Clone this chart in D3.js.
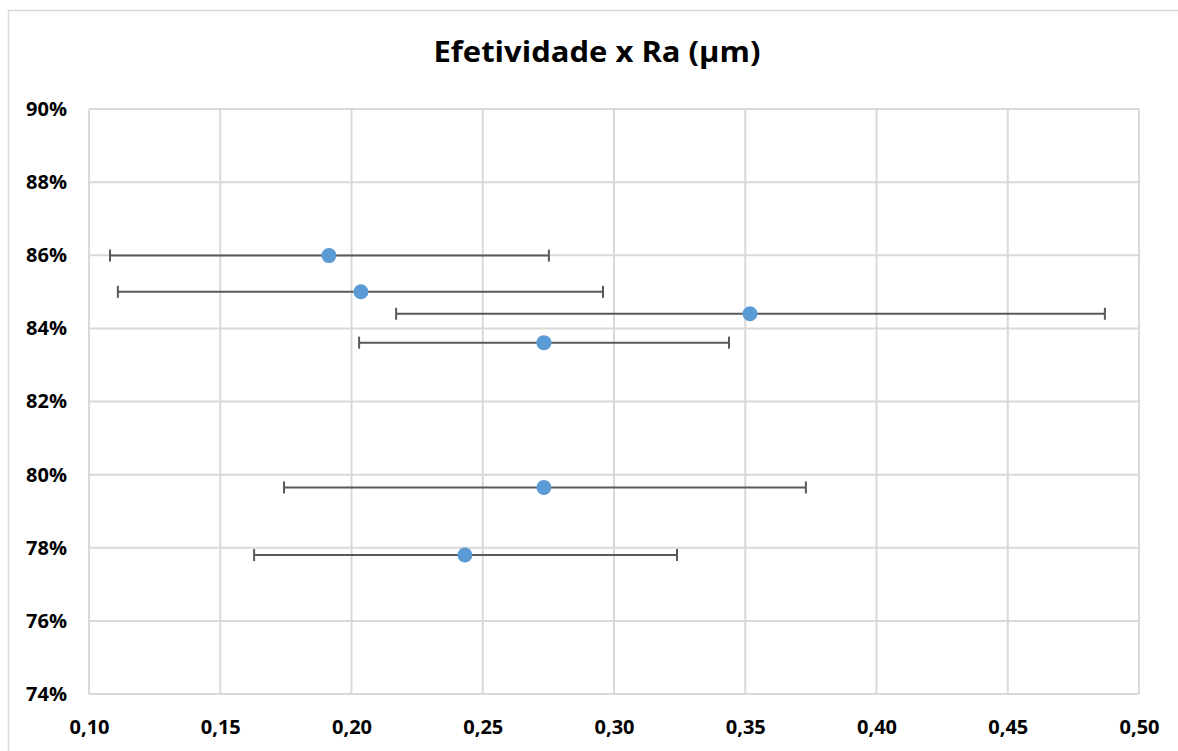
<!DOCTYPE html>
<html>
<head>
<meta charset="utf-8">
<script src="https://cdn.jsdelivr.net/npm/d3@7"></script>
<style>
  html, body { margin: 0; padding: 0; background: #fff; }
  svg { display: block; }
  text { font-family: "Open Sans", "Liberation Sans", sans-serif; font-weight: bold; fill: #000; }
</style>
</head>
<body>
<svg id="chart" width="1178" height="751"></svg>
<script>
// Ra (µm) mean and error-bar range for each sample, with its efetividade (%)
const raMean = [0.1914, 0.2036, 0.3518, 0.2733, 0.2733, 0.2432];
const raLow  = [0.1080, 0.1110, 0.2170, 0.2029, 0.1743, 0.1629];
const raHigh = [0.2752, 0.2958, 0.4870, 0.3438, 0.3731, 0.3240];
const efet   = [85.99, 85.00, 84.40, 83.61, 79.65, 77.80];

const xTicks = [0.10, 0.15, 0.20, 0.25, 0.30, 0.35, 0.40, 0.45, 0.50];
const yTicks = [74, 76, 78, 80, 82, 84, 86, 88, 90];

const svg = d3.select("#chart");
const W = 1178, H = 751;
const plot = { left: 89, top: 109, right: 1139, bottom: 694 };

// chart outer frame
svg.append("rect")
  .attr("x", 8.5).attr("y", 10.5)
  .attr("width", W + 20).attr("height", H + 20)
  .attr("fill", "#fff").attr("stroke", "#d9d9d9").attr("stroke-width", 1.5);

const x = d3.scaleLinear().domain([0.10, 0.50]).range([plot.left, plot.right]);
const y = d3.scaleLinear().domain([74, 90]).range([plot.bottom, plot.top]);

// title
svg.append("text")
  .attr("x", 597).attr("y", 62)
  .attr("text-anchor", "middle")
  .attr("textLength", 327)
  .attr("lengthAdjust", "spacingAndGlyphs")
  .style("font-size", "28px")
  .text("Efetividade x Ra (µm)");

// gridlines
const grid = svg.append("g");
grid.selectAll("line.v").data(xTicks).join("line")
  .attr("x1", d => x(d)).attr("x2", d => x(d))
  .attr("y1", plot.top).attr("y2", plot.bottom)
  .attr("stroke", "#d9d9d9").attr("stroke-width", 2);
grid.selectAll("line.h").data(yTicks).join("line")
  .attr("x1", plot.left).attr("x2", plot.right)
  .attr("y1", d => y(d)).attr("y2", d => y(d))
  .attr("stroke", "#d9d9d9").attr("stroke-width", 2);

// axes (labels only)
const fmtX = d => d3.format(".2f")(d).replace(".", ",");
const xAxis = svg.append("g")
  .attr("transform", `translate(0,${plot.bottom})`)
  .call(d3.axisBottom(x).tickValues(xTicks).tickFormat(fmtX).tickSize(0).tickPadding(26));
xAxis.select(".domain").remove();
xAxis.selectAll("text").style("font-size", "20px").style("font-family", null);

const yAxis = svg.append("g")
  .attr("transform", `translate(${plot.left},0)`)
  .call(d3.axisLeft(y).tickValues(yTicks).tickFormat(d => d + "%").tickSize(0).tickPadding(22));
yAxis.select(".domain").remove();
yAxis.selectAll("text").style("font-size", "20px").style("font-family", null);

// error bars
const idx = d3.range(raMean.length);
const eb = svg.append("g").attr("stroke", "#595959").attr("stroke-width", 2);
eb.selectAll("line.bar").data(idx).join("line")
  .attr("x1", i => x(raLow[i])).attr("x2", i => x(raHigh[i]))
  .attr("y1", i => y(efet[i])).attr("y2", i => y(efet[i]));
eb.selectAll("line.capL").data(idx).join("line")
  .attr("x1", i => x(raLow[i])).attr("x2", i => x(raLow[i]))
  .attr("y1", i => y(efet[i]) - 6).attr("y2", i => y(efet[i]) + 6);
eb.selectAll("line.capR").data(idx).join("line")
  .attr("x1", i => x(raHigh[i])).attr("x2", i => x(raHigh[i]))
  .attr("y1", i => y(efet[i]) - 6).attr("y2", i => y(efet[i]) + 6);

// points
svg.append("g").selectAll("circle").data(idx).join("circle")
  .attr("cx", i => x(raMean[i])).attr("cy", i => y(efet[i]))
  .attr("r", 7.5).attr("fill", "#5b9bd5");
</script>
</body>
</html>
